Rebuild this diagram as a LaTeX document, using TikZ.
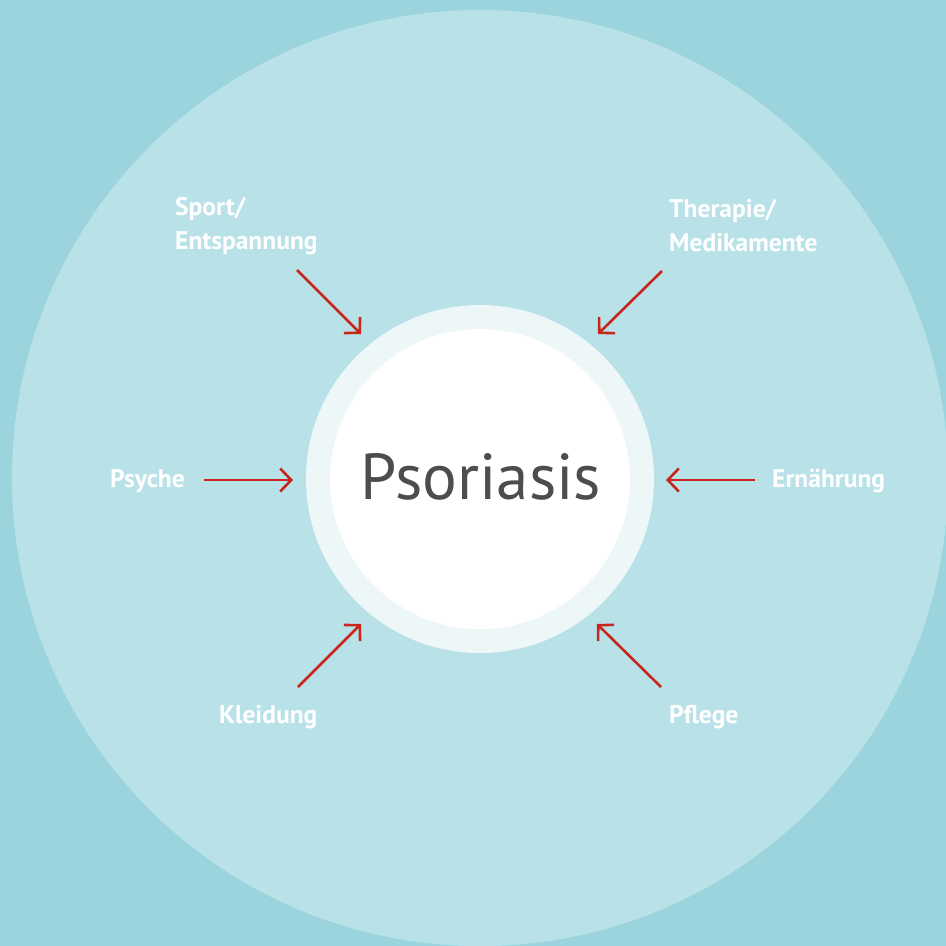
\documentclass[tikz,border=0pt]{standalone}
\usepackage{fontspec}
\setmainfont{PT Sans}
\usetikzlibrary{arrows.meta}
\definecolor{bgc}{HTML}{9BD4DD}
\definecolor{bigc}{HTML}{B9E2E8}
\definecolor{ringc}{HTML}{EDF7F8}
\definecolor{redc}{HTML}{C8251C}
\definecolor{txtc}{HTML}{4D4D4D}
\tikzset{
  lbl/.style={text=white, font=\fontsize{25.5}{34}\selectfont\bfseries, inner sep=0pt, align=left},
  arr/.style={draw=redc, line width=2.6pt, -{Straight Barb[length=11pt,width=23pt,line width=2.6pt]}}
}
\begin{document}
\begin{tikzpicture}[x=1pt,y=-1pt]
\useasboundingbox (0,0) rectangle (946,946);
\fill[bgc] (0,0) rectangle (946,946);
\begin{scope}
\clip (0,0) rectangle (946,946);
\fill[bigc] (480,478) circle[radius=468];
\end{scope}
\fill[ringc] (480,479) circle[radius=174];
\fill[white] (480,479) circle[radius=150];
\node[text=txtc, font=\fontsize{65}{65}\selectfont, inner sep=0pt] (c) at (481,477) {Psoriasis};

\node[lbl, anchor=west] (sport) at (175,226) {Sport/\\Entspannung};
\node[lbl, anchor=west] (ther) at (669,226) {Therapie/\\Medikamente};
\node[lbl, anchor=west] (psy) at (110,481) {Psyche};
\node[lbl, anchor=west] (ern) at (772,481) {Ernährung};
\node[lbl, anchor=west] (kle) at (219,717) {Kleidung};
\node[lbl, anchor=west] (pfl) at (669,717) {Pflege};

\coordinate (s1) at (297,270); \coordinate (s2) at (361,334);
\coordinate (t1) at (662,271); \coordinate (t2) at (598,334);
\coordinate (p1) at (204,480); \coordinate (p2) at (293,480);
\coordinate (e1) at (755,480); \coordinate (e2) at (666,480);
\coordinate (k1) at (298,687); \coordinate (k2) at (361,624);
\coordinate (f1) at (661,687); \coordinate (f2) at (597,624);
\draw[arr] (s1) -- (s2);
\draw[arr] (t1) -- (t2);
\draw[arr] (p1) -- (p2);
\draw[arr] (e1) -- (e2);
\draw[arr] (k1) -- (k2);
\draw[arr] (f1) -- (f2);
\end{tikzpicture}
\end{document}
